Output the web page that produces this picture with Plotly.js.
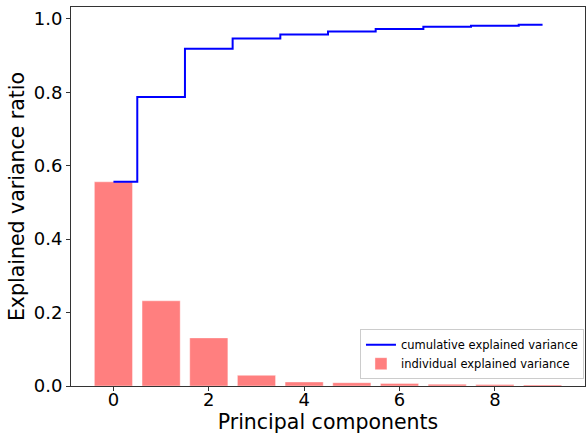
<!DOCTYPE html>
<html>
<head>
<meta charset="utf-8">
<script src="https://cdn.plot.ly/plotly-3.0.1.min.js"></script>
<style>html,body{margin:0;padding:0;background:#fff;}#chart{width:586px;height:438px;}</style>
</head>
<body>
<div id="chart"></div>
<script>
const components = [0, 1, 2, 3, 4, 5, 6, 7, 8, 9];
const individualVariance = [0.556, 0.232, 0.131, 0.029, 0.011, 0.009, 0.007, 0.005, 0.004, 0.003];
const cumulativeVariance = [0.556, 0.787, 0.918, 0.946, 0.957, 0.965, 0.972, 0.978, 0.981, 0.984];
const xTicks = [0, 2, 4, 6, 8];
const yTicks = [0, 0.2, 0.4, 0.6, 0.8, 1.0];

const font = 'DejaVu Sans, sans-serif';

const data = [
  {
    type: 'bar', x: components, y: individualVariance,
    name: 'individual explained variance',
    marker: {color: 'rgba(255,0,0,0.5)', line: {color: 'rgba(255,255,255,0.4)', width: 1}},
    width: 0.8, legendrank: 2
  },
  {
    type: 'scatter', mode: 'lines', x: components, y: cumulativeVariance,
    name: 'cumulative explained variance',
    line: {shape: 'hvh', color: '#0000ff', width: 2}, legendrank: 1
  }
];

const axisCommon = {
  showgrid: false, zeroline: false, showline: true, mirror: true,
  linecolor: '#333', linewidth: 1, ticks: 'outside', ticklen: 4, tickwidth: 1, tickcolor: '#333',
  tickfont: {family: font, size: 18, color: '#000'}
};

const layout = {
  width: 586, height: 438,
  margin: {l: 71, r: 1, t: 7, b: 52},
  paper_bgcolor: '#fff', plot_bgcolor: '#fff',
  showlegend: true,
  bargap: 0,
  xaxis: Object.assign({}, axisCommon, {
    range: [-0.89, 9.89], tickvals: xTicks, ticklabelstandoff: -7,
    title: {text: 'Principal components', font: {family: font, size: 20.5, color: '#000'}, standoff: 5}
  }),
  yaxis: Object.assign({}, axisCommon, {
    range: [0, 1.032], tickvals: yTicks, tickformat: '.1f',
    title: {text: 'Explained variance ratio', font: {family: font, size: 20.5, color: '#000'}, standoff: 3}
  }),
  legend: {
    x: 0.998, y: 0.018, xanchor: 'right', yanchor: 'bottom',
    bgcolor: 'rgba(255,255,255,0.8)', bordercolor: '#ccc', borderwidth: 1,
    font: {family: font, size: 11.5, color: '#000'},
    tracegroupgap: 0, itemwidth: 30
  }
};

Plotly.newPlot('chart', data, layout, {displayModeBar: false, staticPlot: true});
</script>
</body>
</html>
